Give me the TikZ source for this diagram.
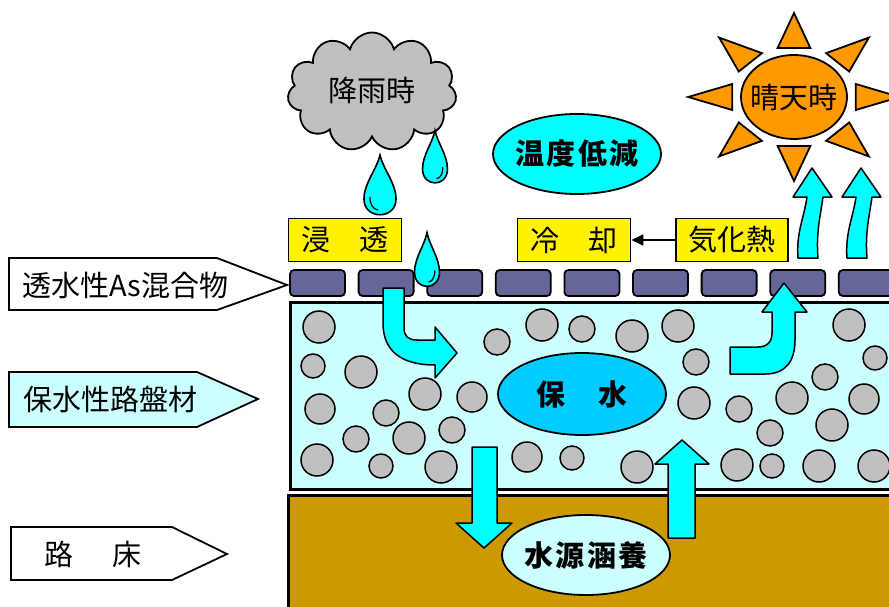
\documentclass[tikz,border=0pt]{standalone}
\usepackage{fontspec}
\setmainfont{Noto Sans CJK JP}
\usetikzlibrary{shapes.symbols,arrows.meta}

\definecolor{tile}{HTML}{666699}
\definecolor{wetbase}{HTML}{CCFFFF}
\definecolor{soil}{HTML}{CC9900}
\definecolor{water}{HTML}{00FFFF}
\definecolor{deepwater}{HTML}{00CCFF}
\definecolor{sunorange}{HTML}{FF9900}
\definecolor{stone}{HTML}{C0C0C0}

\tikzset{
  raindrop/.pic={
    \draw[fill=water,line width=1.6pt] (0,-36) .. controls (3,-22) and (16,-8) .. (16,8)
      .. controls (16,29) and (-16,29) .. (-16,8) .. controls (-16,-8) and (-3,-22) .. (0,-36) -- cycle;
    \draw[line width=1.2pt] (-10,6) .. controls (-10,14) and (-7,18) .. (-2,19);
  },
  vapor/.pic={
    \draw[flow] (0,0) .. controls (-2,-25) and (6,-40) .. (9,-61) -- (-5,-61) -- (14,-90)
      -- (34,-61) -- (25,-61) .. controls (22,-40) and (18,-25) .. (20,0) -- cycle;
  }
}

\begin{document}
\begin{tikzpicture}[x=1pt,y=-1pt,line width=1.8pt,
    tag/.style={font=\fontsize{29}{32}\selectfont},
    boldtag/.style={font=\fontsize{29}{32}\selectfont\bfseries\addfontfeature{LetterSpace=8}},
    pebble/.style={fill=stone,draw=black,line width=1.5pt},
    flow/.style={fill=water,draw=black,line width=1.5pt,line join=round},
    yellowbox/.style={draw,fill=yellow,minimum width=113pt,minimum height=43pt,inner sep=0pt,tag}]
  \useasboundingbox (0,0) rectangle (889,607);
  \clip (0,0) rectangle (889,607);

  % layers
  \draw[fill=wetbase,line width=3pt] (290,302) rectangle (905,489);
  \draw[fill=soil,line width=3pt] (288,495) rectangle (905,620);

  \foreach \x/\y/\r in {319/327/16,313/366/12,361/372/16,425/394/16,320/409/15,386/413/13,
      356/439/13,409/438/16,452/430/13,472/397/15,317/460/16,381/466/12,441/467/16,
      497/342/13,542/325/16,582/329/13,632/336/16,678/326/16,696/362/13,694/403/16,
      739/409/13,770/433/13,792/398/16,825/377/13,832/425/16,849/325/16,875/358/12,
      864/399/15,527/457/15,572/458/12,637/467/16,737/465/16,772/466/12,819/466/16,874/466/16}
    \draw[pebble] (\x,\y) circle (\r);

  \draw[fill=deepwater] (582,394) ellipse [x radius=84, y radius=41];
  \node (keep) [boldtag] at (582,394) {保　水};

  \draw[flow] (472,447) -- (497,447) -- (497,523) -- (512,523) -- (484,548) -- (456,523) -- (472,523) -- cycle;
  \draw[flow] (668,538) -- (668,464) -- (655,464) -- (682,440) -- (709,464) -- (695,464) -- (695,538) -- cycle;

  \draw[fill=wetbase] (586,555) ellipse [x radius=84, y radius=40];
  \node (recharge) [boldtag] at (586,555) {水源涵養};

  % surface tiles
  \foreach \i in {0,...,8}
    \draw[fill=tile,rounded corners=4pt] ({290+68.6*\i},270) rectangle +(55,26);

  \draw[flow] (383,288) -- (383,323) .. controls (383,350) and (400,365) .. (435,365) -- (435,378)
    -- (457,353) -- (435,327) -- (435,340) -- (417,340) .. controls (408,340) and (404,336) .. (404,328)
    -- (404,288) -- cycle;
  \draw[flow] (730,347) -- (758,347) .. controls (767,347) and (772,342) .. (772,333) -- (772,312)
    -- (762,312) -- (784,283) -- (807,312) -- (795,312) -- (795,340) .. controls (795,362) and (785,374) .. (765,374)
    -- (730,374) -- cycle;

  % rain
  \node (rain) [cloud,draw,fill=stone,cloud puffs=11,aspect=1.4,minimum width=169pt,minimum height=119pt,inner sep=0pt] at (372,92) {};
  \node (raintext) [tag] at (372,90) {降雨時};
  \pic at (380,191) {raindrop};
  \pic[xscale=-0.78,yscale=0.88] at (435,162) {raindrop};
  \pic[xscale=-0.78,yscale=0.9] at (427,265) {raindrop};

  % sun
  \begin{scope}[shift={(794,97)},xscale=1.26]
    \foreach \a in {0,45,...,315}
      \draw[fill=sunorange,rotate=\a] (84,0) -- (49,13) -- (49,-13) -- cycle;
  \end{scope}
  \draw[fill=sunorange] (794,97) ellipse [x radius=53, y radius=42];
  \node (sun) [tag] at (794,97) {晴天時};

  \pic at (798,258) {vapor};
  \pic at (847,258) {vapor};

  \draw[fill=water] (577,154) ellipse [x radius=84, y radius=40];
  \node (cooler) [boldtag] at (577,154) {温度低減};

  \node (soak) [yellowbox] at (345,240) {浸　透};
  \node (chill) [yellowbox] at (574,240) {冷　却};
  \node (heat) [yellowbox,minimum width=112pt] at (732,240) {気化熱};
  \draw[-{Triangle[length=12pt,width=11pt]}] (heat) -- (chill);

  % labels
  \draw[fill=white] (9,258) -- (217,258) -- (287,285) -- (217,310) -- (9,310) -- cycle;
  \node (surface) [tag,anchor=west] at (18,285) {透水性As混合物};
  \draw[fill=wetbase] (9,372) -- (197,372) -- (258,399) -- (197,427) -- (9,427) -- cycle;
  \node (base) [tag,anchor=west] at (19,399) {保水性路盤材};
  \draw[fill=white] (11,527) -- (172,527) -- (227,554) -- (172,580) -- (11,580) -- cycle;
  \node (subgrade) [tag,anchor=west] at (40,554) {路\hspace{39pt}床};
\end{tikzpicture}
\end{document}
